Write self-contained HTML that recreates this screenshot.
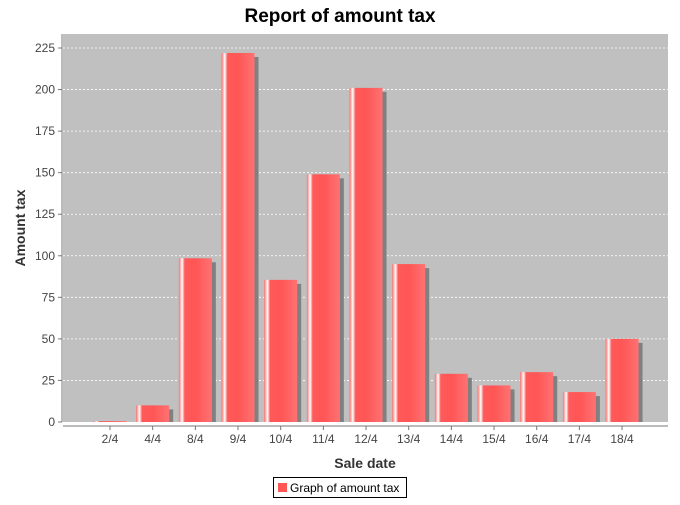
<!DOCTYPE html>
<html><head><meta charset="utf-8"><style>
body{margin:0;background:#fff;font-family:"Liberation Sans","DejaVu Sans",sans-serif}
</style></head><body>
<svg id="c" width="680" height="500" xmlns="http://www.w3.org/2000/svg">
<defs>
<linearGradient id="g" x1="0" x2="1" y1="0" y2="0">
<stop offset="0" stop-color="#ff6a6a"/>
<stop offset="0.1" stop-color="#ffffff"/>
<stop offset="0.18" stop-color="#ff5a5a"/>
<stop offset="0.5" stop-color="#ff5555"/>
<stop offset="1" stop-color="#ff7272"/>
</linearGradient>
</defs>
<text x="340" y="22" text-anchor="middle" font-size="19" font-weight="bold">Report of amount tax</text>
<rect x="63" y="34" width="605" height="388" fill="#c0c0c0"/>
<g id="grid"></g>
<g id="bars"></g>
<line x1="62" y1="34" x2="62" y2="422" stroke="#777"/>
<line x1="63" y1="426" x2="668" y2="426" stroke="#777"/>
<g id="ticks" font-size="12" fill="#444"></g>
<text x="25" y="228" transform="rotate(-90 25 228)" text-anchor="middle" font-size="14" font-weight="bold" fill="#333">Amount tax</text>
<text x="365" y="468" text-anchor="middle" font-size="14" font-weight="bold" fill="#333">Sale date</text>
<g>
<rect x="273.5" y="477.5" width="133" height="20" fill="#fff" stroke="#000"/>
<rect x="278" y="483" width="9" height="9" fill="#ff5555"/>
<text x="290" y="492" font-size="12" fill="#000">Graph of amount tax</text>
</g>
</svg>
<script>
const categories=["2/4","4/4","8/4","9/4","10/4","11/4","12/4","13/4","14/4","15/4","16/4","17/4","18/4"];
const values=[0.5,10,98.5,222,85.5,149,201,95,29,22,30,18,50];
const yTicks=[0,25,50,75,100,125,150,175,200,225];
const NS="http://www.w3.org/2000/svg";
const y=v=>422-v*(374/225);
const x=i=>110+i*42.67;
const bw=33;
function mk(t,a,p){const e=document.createElementNS(NS,t);for(const k in a)e.setAttribute(k,a[k]);p.appendChild(e);return e;}
const grid=document.getElementById('grid'),bars=document.getElementById('bars'),ticks=document.getElementById('ticks');
yTicks.forEach(v=>{
 if(v>0){const l=mk('line',{x1:63,x2:668,y1:y(v),y2:y(v),stroke:'#fff','stroke-dasharray':'2,2','stroke-width':0.8},grid);
 
 }
 mk('line',{x1:58,x2:62,y1:y(v),y2:y(v),stroke:'#777'},ticks);
 const t=mk('text',{x:55,y:y(v)+4,'text-anchor':'end'},ticks);t.textContent=v;
 
 
});
categories.forEach((c,i)=>{
 const cx=x(i),top=y(values[i]),h=422-top;
 const s=mk('rect',{x:cx-bw/2+4,y:top+4,width:bw,height:Math.max(0,h-4),fill:'#808080'},bars);
 
 
 const b=mk('rect',{x:cx-bw/2,y:top,width:bw,height:h,fill:'url(#g)'},bars);
 
 
 mk('line',{x1:cx,x2:cx,y1:426,y2:430,stroke:'#777'},ticks);
 const t=mk('text',{x:cx,y:443,'text-anchor':'middle'},ticks);t.textContent=c;
 
 
});
</script>
</body></html>
